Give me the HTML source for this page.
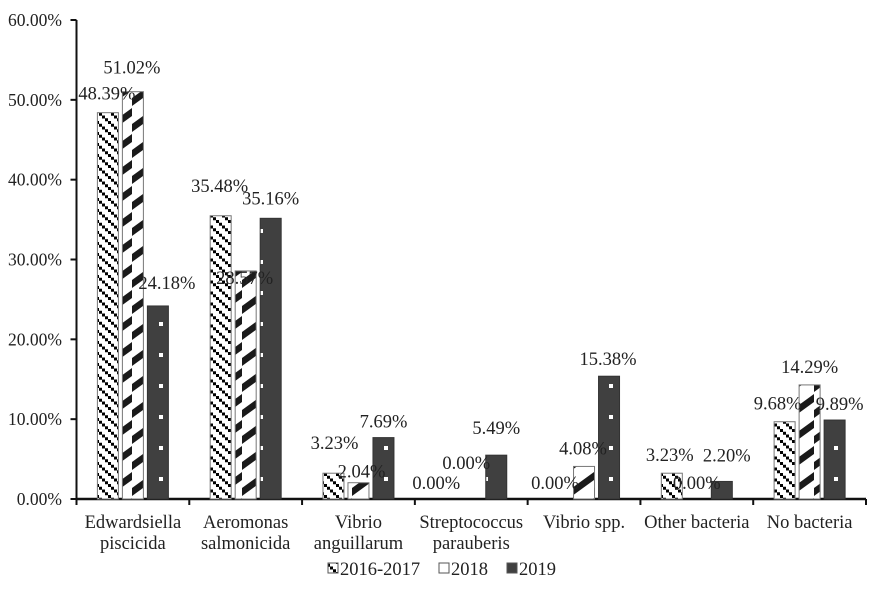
<!DOCTYPE html>
<html><head><meta charset="utf-8">
<style>
html,body{margin:0;padding:0;background:#fff;}
svg text{font-family:"Liberation Serif",serif;fill:#222;}
</style></head>
<body>
<svg id="chart" width="886" height="602" xmlns="http://www.w3.org/2000/svg">
<defs>
  <pattern id="p2016" patternUnits="userSpaceOnUse" width="12" height="11">
    <rect width="12" height="11" fill="#fff"/>
    <rect x="0" y="0" width="3" height="3" fill="#000"/>
    <rect x="3" y="2.75" width="3" height="3" fill="#000"/>
    <rect x="6" y="5.5" width="3" height="3" fill="#000"/>
    <rect x="9" y="8.25" width="3" height="3" fill="#000"/>
    <rect x="9" y="-2.75" width="3" height="3" fill="#000"/>
  </pattern>
  <pattern id="p2018" patternUnits="userSpaceOnUse" width="22" height="26">
    <rect width="22" height="26" fill="#fff"/>
    <polygon points="0,20 22,4 22,12 0,28" fill="#1a1a1a"/>
    <polygon points="0,-6 22,-22 22,-14 0,2" fill="#1a1a1a"/>
  </pattern>
  <pattern id="p2019" patternUnits="userSpaceOnUse" width="25" height="31">
    <rect width="25" height="31" fill="#404040"/>
    <rect x="9" y="12" width="4" height="4" fill="#fff"/>
  </pattern>
</defs>
<g id="axes"></g>
<g id="bars"></g>
<g id="labels"></g>
<g id="legend"></g>
</svg>
<script>
const categories = [["Edwardsiella","piscicida"],["Aeromonas","salmonicida"],["Vibrio","anguillarum"],["Streptococcus","parauberis"],["Vibrio spp."],["Other bacteria"],["No bacteria"]];
const series2016 = [48.39, 35.48, 3.23, 0.00, 0.00, 3.23, 9.68];
const series2018 = [51.02, 28.57, 2.04, 0.00, 4.08, 0.00, 14.29];
const series2019 = [24.18, 35.16, 7.69, 5.49, 15.38, 2.20, 9.89];
const seriesNames = ["2016-2017","2018","2019"];
const yTicks = [0,10,20,30,40,50,60];
// label offsets (layout, relative to bar top/center)
const labelDx = [[-1,-1,1,-10,-4,-2,-7],[-1,-1,3,-5,-1,0,0],[9,0,0,0,-1,5,5]];
const labelDy = [[-19,-30,-30,-16,-16,-18,-18],[-24,7,-11,-36,-18,-16,-18],[-23,-20,-16,-27,-17,-26,-16]];

const NS="http://www.w3.org/2000/svg";
const X0=76.5, X1=866, Y0=499, Y1=20, YMAX=60;
const catW=(X1-X0)/categories.length;
const barW=21, step=25, pad=(catW-(2*step+barW))/2;
function yScale(v){return Y0-(v/YMAX)*(Y0-Y1);}
function xBar(i,j){return X0+i*catW+pad+j*step;}
function mk(tag,attrs,parent){const e=document.createElementNS(NS,tag);for(const k in attrs)e.setAttribute(k,attrs[k]);parent.appendChild(e);return e;}

const axes=document.getElementById('axes');
const yAxis=mk('line',{x1:X0,y1:Y1,x2:X0,y2:Y0,stroke:'#111','stroke-width':2},axes);


yTicks.forEach(t=>{
  const y=yScale(t);
  const tk=mk('line',{x1:X0-6,y1:y,x2:X0,y2:y,stroke:'#111','stroke-width':2},axes);
  
  
  const tx=mk('text',{x:62,y:y+6,'text-anchor':'end','font-size':17.5},axes);
  
  
  tx.textContent=t.toFixed(2)+'%';
});
const xAxis=mk('line',{x1:X0-1,y1:Y0,x2:X1,y2:Y0,stroke:'#111','stroke-width':2.5},axes);


for(let i=0;i<=categories.length;i++){
  const x=X0+i*catW;
  const tk=mk('line',{x1:x,y1:Y0,x2:x,y2:Y0+6,stroke:'#111','stroke-width':2},axes);
  
  
}
categories.forEach((c,i)=>{
  const cx=X0+(i+0.5)*catW;
  c.forEach((line,k)=>{
    const t=mk('text',{x:cx,y:528+k*21,'text-anchor':'middle','font-size':18.5},axes);
    
    
    t.textContent=line;
  });
});

const bars=document.getElementById('bars'), labels=document.getElementById('labels');
const allSeries=[series2016,series2018,series2019];
const fills=['url(#p2016)','url(#p2018)','url(#p2019)'];
const strokes=['#777','#777','#333'];
allSeries.forEach((s,j)=>{
  s.forEach((v,i)=>{
    const x=xBar(i,j), y=yScale(v);
    if(v>0){
      const r=mk('rect',{x:x,y:y,width:barW,height:Y0-y,fill:fills[j],stroke:strokes[j],'stroke-width':1},bars);
      
      
    }
    const t=mk('text',{x:x+barW/2+labelDx[j][i],y:y+labelDy[j][i]+6,'text-anchor':'middle','font-size':18.5},labels);
    
    
    t.textContent=v.toFixed(2)+'%';
  });
});

const legend=document.getElementById('legend');
const lx=[328,439,507];
seriesNames.forEach((n,j)=>{
  const g=mk('g',{},legend);
  
  
  const sw=mk('rect',{x:lx[j],y:563,width:10,height:10,fill:j===0?'url(#p2016)':(j===1?'#fff':'#404040'),stroke:'#555','stroke-width':1},g);
  
  
  const t=mk('text',{x:lx[j]+12,y:575,'font-size':18.5},g);
  
  
  t.textContent=n;
});
</script>
</body></html>
